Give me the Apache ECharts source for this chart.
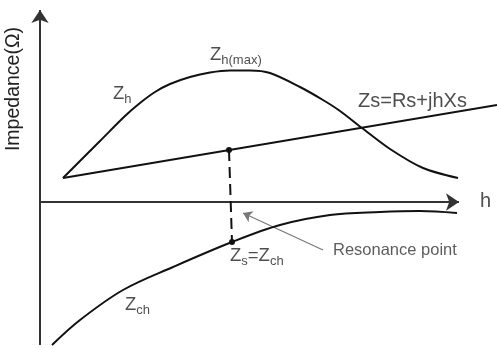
<!DOCTYPE html>
<html>
<head>
<meta charset="utf-8">
<script src="https://cdn.jsdelivr.net/npm/echarts@6/dist/echarts.min.js"></script>
<style>
  html, body { margin: 0; padding: 0; background: #fff; }
  #chart { width: 497px; height: 349px; }
</style>
</head>
<body>
<div id="chart"></div>
<script>
// Harmonic order h (schematic units) and impedance values
const hZh = [23, 60, 85, 100, 115, 130, 150, 170, 190, 210, 230, 260, 283, 300, 322, 350, 383, 418];
const zh  = [24, 61, 86, 99, 110, 118, 125, 129.5, 131.5, 131.5, 129, 115, 102, 91, 74, 53, 34, 24];

const hZs = [23, 457];
const zs  = [24, 97];

const hZch = [12, 40, 83, 133, 192, 240, 290, 340, 380, 417];
const zch  = [-143, -118, -88, -65, -40, -23, -13, -10, -9, -11];

// Resonance: point on Zs and the matching point on Zch
const resH = [189, 192];
const resZ = [52, -40];

// Pointer from the "Resonance point" caption
const pointerH = [283, 203];
const pointerZ = [-48, -11];

// Axis extents (origin at h = 0, Z = 0)
const hAxisEnd = 419;
const zAxisRange = [-143, 192];

// Annotation texts (rich-text markup)
const labelTexts = [
  '{z|Z}{s|h}',
  '{z|Z}{s|h(max)}',
  '{t|Zs=Rs+jhXs}',
  '{r|Resonance point}',
  '{z|Z}{s|s}{z|=Z}{s|ch}',
  '{z|Z}{s|ch}',
  '{t|h}'
];
const labelAnchors = [
  [73, 108], [170, 147], [318, 101], [293, -48], [190, -54], [85, -103], [440, 1]
];

const FONT = 'Liberation Sans, Arial, sans-serif';
const INK = '#222';

const zip = (a, b) => a.map((v, i) => [v, b[i]]);

const chart = echarts.init(document.getElementById('chart'), null, { renderer: 'canvas' });

const richStyles = {
  z: { fontSize: 18.5, color: INK, fontFamily: FONT },
  s: { fontSize: 13, color: INK, fontFamily: FONT, padding: [10, 0, 0, 0] },
  t: { fontSize: 20, color: INK, fontFamily: FONT },
  r: { fontSize: 16.5, color: '#333', fontFamily: FONT }
};

chart.setOption({
  animation: false,
  backgroundColor: '#fff',
  grid: { left: 0, top: 0, width: 497, height: 349 },
  xAxis: { type: 'value', min: -40, max: 457, show: false },
  yAxis: { type: 'value', min: -147, max: 202, show: false },
  graphic: [{
    type: 'text',
    left: 4, top: 27,
    rotation: Math.PI / 2,
    originX: 0, originY: 0,
    style: { text: 'Impedance(Ω)', fontSize: 19.5, fontFamily: FONT, fill: INK }
  }],
  series: [
    {
      name: 'axes', type: 'lines', coordinateSystem: 'cartesian2d',
      symbol: ['none', 'arrow'], symbolSize: [8, 13],
      lineStyle: { color: '#333', width: 2, opacity: 1 },
      data: [
        { coords: [[0, 0], [hAxisEnd, 0]] },
        { coords: [[0, zAxisRange[0]], [0, zAxisRange[1]]] }
      ]
    },
    {
      name: 'Zh', type: 'line', data: zip(hZh, zh), smooth: 0.3,
      showSymbol: false, clip: false,
      lineStyle: { color: '#111', width: 2 }
    },
    {
      name: 'Zs', type: 'line', data: zip(hZs, zs),
      showSymbol: false, clip: false,
      lineStyle: { color: '#111', width: 2 }
    },
    {
      name: 'Zch', type: 'line', data: zip(hZch, zch), smooth: 0.35,
      showSymbol: false, clip: false,
      lineStyle: { color: '#111', width: 2 }
    },
    {
      name: 'resonance', type: 'line', data: zip(resH, resZ),
      symbol: 'circle', symbolSize: 6, showSymbol: true, clip: false,
      itemStyle: { color: '#111' },
      lineStyle: { color: '#111', width: 2, type: [11, 6] }
    },
    {
      name: 'pointer', type: 'lines', coordinateSystem: 'cartesian2d',
      symbol: ['none', 'arrow'], symbolSize: 9,
      lineStyle: { color: '#777', width: 1.2, opacity: 1 },
      data: [{ coords: zip(pointerH, pointerZ) }]
    },
    {
      name: 'labels', type: 'scatter', symbolSize: 0, clip: false,
      data: labelAnchors.map((p, i) => ({
        value: p,
        label: { formatter: labelTexts[i] }
      })),
      label: {
        show: true, position: [0, 0], align: 'left', verticalAlign: 'middle',
        rich: richStyles
      }
    }
  ]
});
</script>
</body>
</html>
